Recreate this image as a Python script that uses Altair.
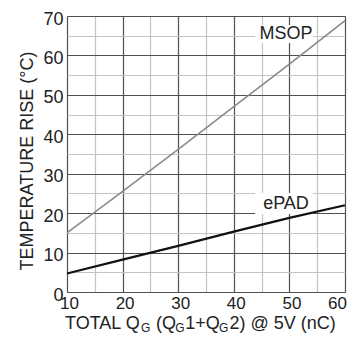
import altair as alt
import pandas as pd

qg = [10, 20, 30, 40, 50, 60]
msop = [15.0, 25.5, 36.2, 47.0, 57.8, 68.8]
epad = [4.7, 8.2, 11.7, 15.3, 18.8, 22.0]
series_names = ["MSOP", "ePAD"]
x_ticks = [10, 15, 20, 25, 30, 35, 40, 45, 50, 55, 60]
y_ticks = [0, 5, 10, 15, 20, 25, 30, 35, 40, 45, 50, 55, 60, 65, 70]

rows = []
for name, vals in zip(series_names, [msop, epad]):
    for x, y in zip(qg, vals):
        rows.append({"qg": x, "rise": y, "series": name})
df = pd.DataFrame(rows)

FONT = "Liberation Sans"
TXT = "#222222"
grid_color = {"condition": {"test": "datum.value % 10 == 0", "value": "#505050"}, "value": "#c4c4c4"}

x_axis = alt.Axis(values=x_ticks, grid=True, gridColor=grid_color, gridWidth=1.2,
                  ticks=False, domain=False, labelFontSize=17, labelFont=FONT, labelColor=TXT,
                  labelPadding=3, labelExpr="datum.value % 10 == 0 ? datum.label : ''",
                  labelOffset={"condition": {"test": "datum.value == 60", "value": -8}, "value": 2},
                  title=None, labelFlush=False)
y_axis = alt.Axis(values=y_ticks, grid=True, gridColor=grid_color, gridWidth=1.2,
                  ticks=False, domain=False, labelFontSize=18, labelFont=FONT, labelColor=TXT,
                  labelPadding=4, labelOffset=3, labelExpr="datum.value % 10 == 0 ? datum.label : ''",
                  title="TEMPERATURE RISE (°C)", titleFont=FONT, titleFontSize=18,
                  titleFontWeight="normal", titleColor=TXT, titleAngle=270,
                  titleAlign="center", titleBaseline="alphabetic", titleX=-35, titleY=144.5,
                  labelFlush=False)

base = alt.Chart(df)

lines = base.mark_line().encode(
    x=alt.X("qg:Q", scale=alt.Scale(domain=[10, 60], nice=False), axis=x_axis),
    y=alt.Y("rise:Q", scale=alt.Scale(domain=[0, 70], nice=False), axis=y_axis),
    color=alt.Color("series:N", scale=alt.Scale(domain=series_names, range=["#8a8a8a", "#111111"]), legend=None),
    strokeWidth=alt.StrokeWidth("series:N", scale=alt.Scale(domain=series_names, range=[1.6, 2.2]), legend=None),
    detail="series:N",
)

one = pd.DataFrame({"k": [0]})

def box(x1, x2, y1, y2):
    return alt.Chart(one).mark_rect(color="white").encode(
        x=alt.value(x1), x2=alt.value(x2), y=alt.value(y1), y2=alt.value(y2))

def txt(s, x, y, size=18, align="left"):
    return alt.Chart(pd.DataFrame({"t": [s]})).mark_text(
        font=FONT, fontSize=size, color=TXT, align=align, baseline="alphabetic"
    ).encode(text="t:N", x=alt.value(x), y=alt.value(y))

boxes = box(188, 246, 9, 27) + box(188, 246, 177, 198)
labels = txt(series_names[0], 219, 23, align="center") + txt(series_names[1], 219, 193, align="center")

# x-axis title with subscripts (pieces placed side by side, Arial metrics)
main_y = 313
sub_y = 316
pieces = [("TOTAL Q", 18, -2.0), ("G", 12, 74.0), ("(Q", 18, 89.0), ("G", 12, 108.3),
          ("1+Q", 18, 118.3), ("G", 12, 152.1), ("2) @ 5V (nC)", 18, 162.4)]
title_layers = [txt(s, px, main_y if sz == 18 else sub_y, size=sz) for s, sz, px in pieces]

chart = alt.layer(boxes, lines, labels, *title_layers).properties(
    width=278, height=276,
    autosize=alt.AutoSizeParams(type="none"),
    padding={"left": 59, "top": 8, "right": 2, "bottom": 43},
).configure_view(stroke="#1a1a1a", strokeWidth=2.2).configure(background="white")

chart.save("out.html", embed_options={"renderer": "svg", "actions": False})
